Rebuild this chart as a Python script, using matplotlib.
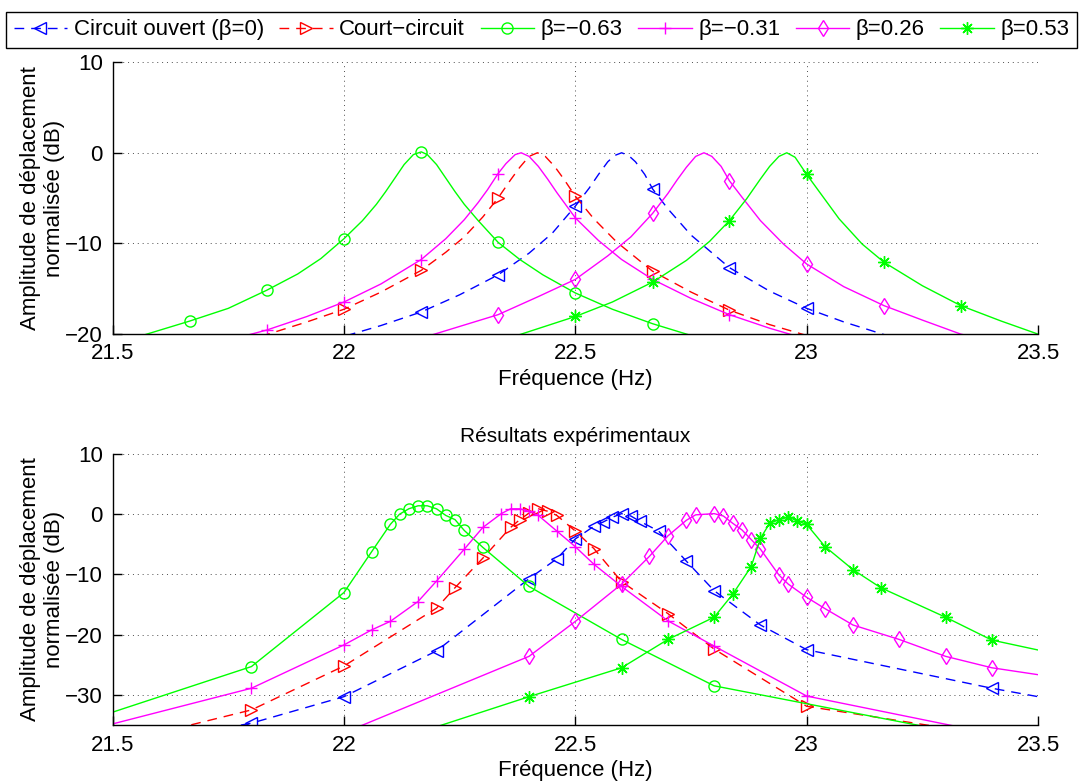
import numpy as np
import matplotlib
matplotlib.use("Agg")
import matplotlib.pyplot as plt
from matplotlib.lines import Line2D

plt.rcParams['font.family'] = ['Liberation Sans', 'DejaVu Sans']
plt.rcParams['font.size'] = 16

# legend labels (same order for both panels)
labels = ['Circuit ouvert (\u03b2=0)', 'Court\u2212circuit', '\u03b2=\u22120.63',
          '\u03b2=\u22120.31', '\u03b2=0.26', '\u03b2=0.53']

# ---- top panel: model (frequency in Hz, amplitude in dB) ----
f_open = [21.9, 22.0, 22.08, 22.167, 22.25, 22.333, 22.4, 22.45, 22.5, 22.53, 22.55, 22.57, 22.585,
          22.6, 22.615, 22.63, 22.65, 22.667, 22.7, 22.75, 22.833, 22.92, 23.0, 23.08, 23.167, 23.25]
a_open = [-21.7, -20.3, -19.1, -17.6, -15.7, -13.5, -11.1, -8.9, -5.9, -3.9, -2.4, -1.0, -0.3,
          0.0, -0.3, -1.0, -2.4, -4.0, -6.2, -9.1, -12.7, -15.3, -17.2, -18.7, -20.1, -21.2]

f_short = [21.75, 21.833, 21.92, 22.0, 22.08, 22.167, 22.22, 22.26, 22.3, 22.333, 22.36, 22.38, 22.4,
           22.418, 22.435, 22.455, 22.475, 22.5, 22.54, 22.59, 22.667, 22.75, 22.833, 22.92, 23.0, 23.08]
a_short = [-21.3, -20.1, -18.7, -17.3, -15.4, -13.0, -11.0, -9.3, -7.1, -5.0, -3.0, -1.6, -0.4,
           0.0, -0.4, -1.5, -2.9, -4.8, -7.3, -9.9, -13.1, -15.4, -17.4, -19.0, -20.2, -21.3]

f_m063 = [21.5, 21.667, 21.75, 21.833, 21.9, 21.95, 22.0, 22.04, 22.07, 22.09, 22.11, 22.13, 22.15,
          22.167, 22.18, 22.2, 22.22, 22.24, 22.26, 22.29, 22.333, 22.38, 22.43, 22.5, 22.58, 22.667, 22.75]
a_m063 = [-21.2, -18.6, -17.2, -15.2, -13.4, -11.7, -9.5, -7.5, -5.7, -4.3, -2.8, -1.3, -0.2,
          0.1, -0.2, -1.3, -2.8, -4.3, -5.7, -7.5, -9.9, -11.8, -13.5, -15.5, -17.3, -18.9, -20.2]

f_m031 = [21.7, 21.833, 21.92, 22.0, 22.08, 22.167, 22.22, 22.26, 22.29, 22.31, 22.333, 22.35, 22.37,
          22.383, 22.4, 22.42, 22.44, 22.46, 22.5, 22.55, 22.6, 22.667, 22.75, 22.833, 22.92, 23.0]
a_m031 = [-21.4, -19.6, -18.1, -16.5, -14.5, -11.8, -9.5, -7.4, -5.5, -4.1, -2.3, -1.2, -0.2,
          0.0, -0.4, -1.5, -2.9, -4.4, -7.2, -9.7, -11.8, -14.0, -16.1, -17.9, -19.4, -20.6]

f_p026 = [22.1, 22.167, 22.25, 22.333, 22.42, 22.5, 22.57, 22.62, 22.667, 22.7, 22.72, 22.74, 22.76,
          22.778, 22.795, 22.815, 22.833, 22.86, 22.9, 22.95, 23.0, 23.08, 23.167, 23.25, 23.333, 23.4]
a_p026 = [-21.4, -20.5, -19.2, -17.9, -15.9, -14.0, -11.4, -9.3, -6.7, -4.5, -3.0, -1.6, -0.4,
          0.0, -0.4, -1.5, -3.1, -4.9, -7.5, -10.1, -12.3, -14.8, -16.9, -18.5, -20.05, -20.8]

f_p053 = [22.3, 22.38, 22.5, 22.58, 22.667, 22.74, 22.79, 22.833, 22.87, 22.9, 22.92, 22.94, 22.957,
          22.975, 23.0, 23.03, 23.07, 23.12, 23.167, 23.25, 23.333, 23.42, 23.5]
a_p053 = [-21.2, -20.1, -18.1, -16.5, -14.3, -11.9, -9.8, -7.5, -5.1, -2.9, -1.5, -0.4, 0.0,
          -0.5, -2.4, -4.5, -7.3, -10.1, -12.1, -14.7, -16.9, -18.6, -20.05]

# ---- bottom panel: measurements ----
e_open_f = [21.6, 21.8, 22.0, 22.2, 22.4, 22.46, 22.5, 22.54, 22.56, 22.58, 22.6, 22.62, 22.64,
            22.68, 22.74, 22.8, 22.9, 23.0, 23.4, 23.6]
e_open_a = [-37.5, -34.7, -30.3, -22.7, -10.7, -7.4, -4.1, -2.0, -1.3, -0.5, 0.1, -0.3, -1.2,
            -2.8, -7.8, -12.7, -18.4, -22.5, -28.9, -31.7]

e_short_f = [21.6, 21.8, 22.0, 22.2, 22.24, 22.3, 22.36, 22.38, 22.4, 22.42, 22.44, 22.46, 22.5,
             22.54, 22.6, 22.7, 22.8, 23.0, 23.5]
e_short_a = [-36.3, -32.5, -25.2, -15.6, -12.2, -7.3, -2.2, -0.9, 0.2, 0.9, 0.5, -0.2, -2.8,
             -5.7, -11.2, -16.5, -22.4, -31.9, -37.9]

e_m063_f = [21.4, 21.8, 22.0, 22.06, 22.1, 22.12, 22.14, 22.16, 22.18, 22.2, 22.22, 22.24, 22.26,
            22.3, 22.4, 22.6, 22.8, 23.5]
e_m063_a = [-35.4, -25.3, -13.0, -6.2, -1.7, 0.0, 0.9, 1.4, 1.4, 0.9, -0.2, -0.9, -2.7,
            -5.5, -12.0, -20.8, -28.5, -38.9]

e_m031_f = [21.4, 21.8, 22.0, 22.06, 22.1, 22.16, 22.2, 22.26, 22.3, 22.34, 22.36, 22.38, 22.4,
            22.42, 22.46, 22.5, 22.54, 22.6, 22.7, 22.8, 23.0, 23.5]
e_m031_a = [-36.8, -28.9, -21.7, -19.2, -17.8, -14.5, -11.1, -5.8, -2.2, 0.1, 0.9, 0.9, 0.5,
            -0.2, -2.8, -5.4, -8.3, -12.0, -17.7, -21.9, -30.2, -38.0]

e_p026_f = [22.0, 22.4, 22.5, 22.6, 22.66, 22.7, 22.74, 22.76, 22.8, 22.82, 22.84, 22.86, 22.88,
            22.9, 22.94, 22.96, 23.0, 23.04, 23.1, 23.2, 23.3, 23.4, 23.6]
e_p026_a = [-36.3, -23.6, -17.8, -11.6, -7.0, -3.6, -1.0, -0.1, 0.1, -0.3, -1.5, -2.6, -4.2,
            -5.8, -10.1, -11.6, -13.8, -15.7, -18.4, -20.8, -23.6, -25.5, -27.8]

e_p053_f = [22.0, 22.4, 22.6, 22.7, 22.8, 22.84, 22.88, 22.9, 22.92, 22.94, 22.96, 22.98, 23.0,
            23.04, 23.1, 23.16, 23.3, 23.4, 23.6]
e_p053_a = [-40.3, -30.3, -25.5, -20.8, -17.1, -13.3, -8.7, -4.0, -1.5, -0.9, -0.5, -1.1, -1.7,
            -5.4, -9.2, -12.2, -17.1, -20.9, -24.2]

model = [(f_open, a_open), (f_short, a_short), (f_m063, a_m063),
         (f_m031, a_m031), (f_p026, a_p026), (f_p053, a_p053)]
meas = [(e_open_f, e_open_a), (e_short_f, e_short_a), (e_m063_f, e_m063_a),
        (e_m031_f, e_m031_a), (e_p026_f, e_p026_a), (e_p053_f, e_p053_a)]

# styles
colors = ['#0000ff', '#ff0000', '#00ff00', '#ff00ff', '#ff00ff', '#00ff00']
markers = ['<', '>', 'o', '+', 'd', (8, 2, 0)]
msizes = [8, 8, 8, 9, 8.5, 9]
dash = (0, (7, 5))
lstyles = [dash, dash, '-', '-', '-', '-']


def style_axes(ax, ymin, yticks):
    ax.set_xlim(21.5, 23.5)
    ax.set_ylim(ymin, 10)
    ax.set_xticks([21.5, 22, 22.5, 23, 23.5])
    ax.set_xticklabels(['21.5', '22', '22.5', '23', '23.5'])
    ax.set_yticks(yticks)
    ax.spines['top'].set_visible(False)
    ax.spines['right'].set_visible(False)
    for s in ('left', 'bottom'):
        ax.spines[s].set_linewidth(1.0)
    ax.tick_params(direction='in', length=6.5, width=1.0, pad=7)
    ax.grid(True, linestyle=(0, (1, 4)), color='0.3', linewidth=0.7)
    ax.set_axisbelow(True)
    ax.set_xlabel('Fr\u00e9quence (Hz)', labelpad=3)
    ax.set_ylabel('Amplitude de d\u00e9placement\nnormalis\u00e9e (dB)', labelpad=0)


fig = plt.figure(figsize=(10.83, 7.84), dpi=100)
ax1 = fig.add_axes([0.104, 0.5744, 0.8545, 0.3461])
ax2 = fig.add_axes([0.104, 0.0753, 0.8545, 0.3456])

for (f, a), c, m, ms, ls in zip(model, colors, markers, msizes, lstyles):
    f = np.array(f)
    a = np.array(a)
    k = f * 6
    mk = list(np.where((np.abs(k - np.round(k)) < 0.01) & (a >= -20))[0])
    ax1.plot(f, a, color=c, linestyle=ls, linewidth=1.0, marker=m, markersize=ms,
             markerfacecolor='none', markeredgecolor=c, markeredgewidth=1.0, markevery=mk)

for (f, a), c, m, ms, ls in zip(meas, colors, markers, msizes, lstyles):
    ax2.plot(f, a, color=c, linestyle=ls, linewidth=1.0, marker=m, markersize=ms,
             markerfacecolor='none', markeredgecolor=c, markeredgewidth=1.0)

style_axes(ax1, -20, [-20, -10, 0, 10])
style_axes(ax2, -35, [-30, -20, -10, 0, 10])
ax2.set_title('R\u00e9sultats exp\u00e9rimentaux', fontsize=15, pad=9)

handles = [Line2D([], [], color=c, linestyle=ls, linewidth=1.0, marker=m, markersize=ms,
                  markerfacecolor='none', markeredgecolor=c, markeredgewidth=1.0)
           for c, m, ms, ls in zip(colors, markers, msizes, lstyles)]
leg = fig.legend(handles, labels, loc='center', bbox_to_anchor=(0.5, 0.962), ncol=6,
                 frameon=True, fancybox=False, edgecolor='black', framealpha=1,
                 handlelength=2.4, handletextpad=0.3, columnspacing=0.7, borderpad=0.35,
                 borderaxespad=0)
leg.get_frame().set_linewidth(1.0)

plt.savefig('out.png', dpi=100)
